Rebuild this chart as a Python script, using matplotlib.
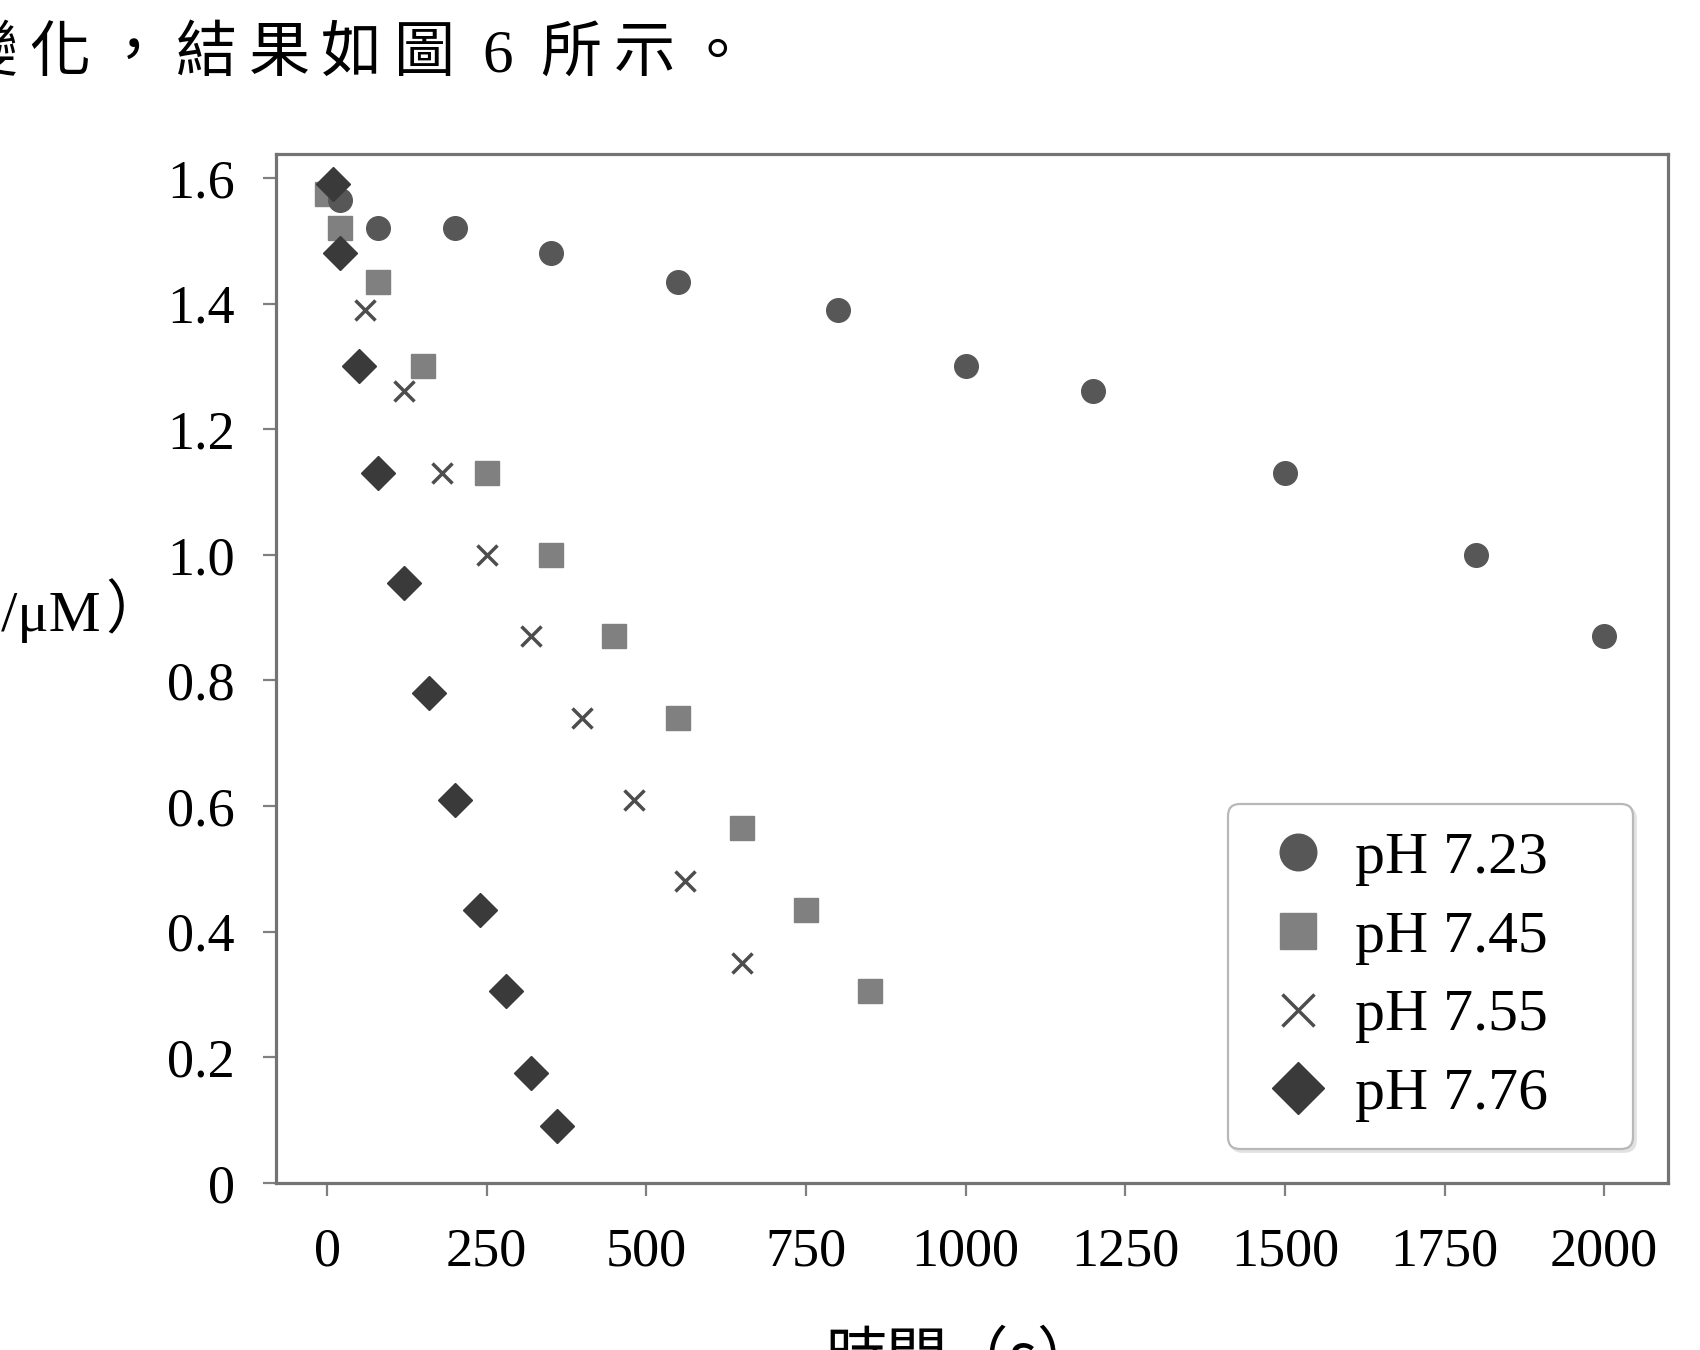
import matplotlib
matplotlib.use('Agg')
import matplotlib.pyplot as plt

plt.rcParams['font.family'] = ['Liberation Serif', 'Noto Sans CJK TC']

# data (time in s, concentration in uM)
time_723 = [20, 80, 200, 350, 550, 800, 1000, 1200, 1500, 1800, 2000]
conc_723 = [1.565, 1.52, 1.52, 1.48, 1.435, 1.39, 1.30, 1.26, 1.13, 1.00, 0.87]

time_745 = [0, 20, 80, 150, 250, 350, 450, 550, 650, 750, 850]
conc_745 = [1.575, 1.52, 1.435, 1.30, 1.13, 1.00, 0.87, 0.74, 0.565, 0.435, 0.305]

time_755 = [60, 120, 180, 250, 320, 400, 480, 560, 650]
conc_755 = [1.39, 1.26, 1.13, 1.00, 0.87, 0.74, 0.61, 0.48, 0.35]

time_776 = [10, 20, 50, 80, 120, 160, 200, 240, 280, 320, 360]
conc_776 = [1.59, 1.48, 1.30, 1.13, 0.955, 0.78, 0.61, 0.435, 0.305, 0.175, 0.09]

labels = ['pH 7.23', 'pH 7.45', 'pH 7.55', 'pH 7.76']
xticks = [0, 250, 500, 750, 1000, 1250, 1500, 1750, 2000]
yticks = [0, 0.2, 0.4, 0.6, 0.8, 1.0, 1.2, 1.4, 1.6]
ytick_labels = ['0', '0.2', '0.4', '0.6', '0.8', '1.0', '1.2', '1.4', '1.6']

W, H = 1700, 1350
fig = plt.figure(figsize=(W / 100, H / 100), dpi=100)
ax = fig.add_axes([276 / W, 1 - 1183 / H, 1392 / W, 1029 / H])

h1, = ax.plot(time_745, conc_745, 's', ms=17, color='#808080', mec='#808080', label=labels[1], zorder=2)
h0, = ax.plot(time_723, conc_723, 'o', ms=17, color='#575757', mec='#575757', label=labels[0], zorder=3)
h2, = ax.plot(time_755, conc_755, 'x', ms=15, mew=2.5, color='#4d4d4d', label=labels[2], zorder=4)
h3, = ax.plot(time_776, conc_776, 'D', ms=17, color='#3a3a3a', mec='#3a3a3a', label=labels[3], zorder=5)

ax.set_xlim(-80, 2100)
ax.set_ylim(0, 1.638)
ax.set_xticks(xticks)
ax.set_xticklabels([str(t) for t in xticks])
ax.set_yticks(yticks)
ax.set_yticklabels(ytick_labels)

for s in ax.spines.values():
    s.set_color('#737373')
    s.set_linewidth(2.3)
ax.tick_params(axis='both', direction='out', length=9.5, width=1.6, color='#808080')
ax.tick_params(axis='x', labelsize=39, pad=22)
ax.tick_params(axis='y', labelsize=39, pad=20)

leg = ax.legend([h0, h1, h2, h3], labels, loc='lower left',
                bbox_to_anchor=((1228 - 276) / 1392, (1183 - 1149) / 1029, 405 / 1392, 0.1),
                mode='expand', borderaxespad=0, fontsize=43, markerscale=1.55,
                handlelength=1.45, handletextpad=0.22, borderpad=0.45, labelspacing=0.4,
                fancybox=True, framealpha=1, edgecolor='#b8b8b8',
                shadow={'color': '#e2e2e2', 'alpha': 1})
leg.get_frame().set_linewidth(1.6)

# caption line at the top (partly cut at the left edge)
caption = '變化，結果如圖6所示。'
for i, ch in enumerate(caption):
    fig.text((-13 + 73 * i) / W, 1 - 71 / H, ch, fontsize=44, ha='center', va='baseline')

# axis titles, cut by the figure edges as in the scan
fig.text(164 / W, 1 - 612 / H, '）', fontsize=42, ha='right', va='center',
         family=['Noto Sans CJK TC', 'Liberation Serif'])
fig.text(102 / W, 1 - 612 / H, '濃度（/μM', fontsize=42, ha='right', va='center')
fig.text(962 / W, 1 - 1377 / H, '時間（s）', fontsize=44, ha='center', va='baseline',
         family=['Noto Sans CJK TC', 'Liberation Serif'])

fig.savefig('out.png', dpi=100)
